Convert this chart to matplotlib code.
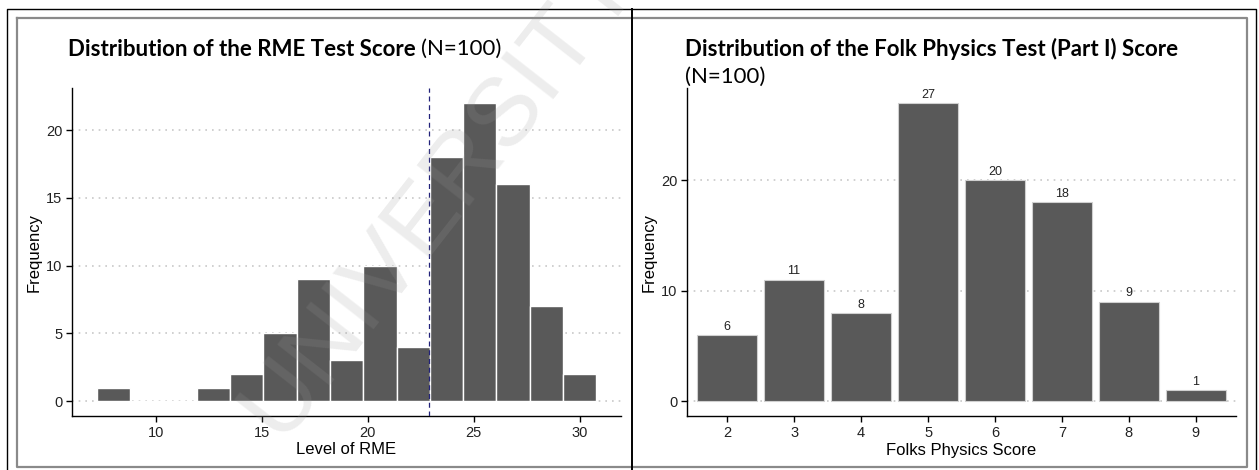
import matplotlib
matplotlib.use("Agg")
import matplotlib.pyplot as plt
from matplotlib.lines import Line2D
import numpy as np

# ---------------- data ----------------
rme_bin_edges = [7.21, 8.79, 10.36, 11.93, 13.50, 15.07, 16.64, 18.21,
                 19.79, 21.36, 22.93, 24.50, 26.07, 27.64, 29.21, 30.79]
rme_counts = [1, 0, 0, 1, 2, 5, 9, 3, 10, 4, 18, 22, 16, 7, 2]
rme_mean = 22.9
rme_xticks = [10, 15, 20, 25, 30]
rme_yticks = [0, 5, 10, 15, 20]

folk_scores = [2, 3, 4, 5, 6, 7, 8, 9]
folk_counts = [6, 11, 8, 27, 20, 18, 9, 1]
folk_yticks = [0, 10, 20]

W, H = 1259, 470
fig = plt.figure(figsize=(W / 100, H / 100), dpi=100)

BAR = "#595959"
GRID = "#c8c8c8"
TICKFONT = ["Liberation Sans", "DejaVu Sans"]
TITLEFONT = ["Lato", "DejaVu Sans"]


def fx(px):
    return px / W


def fy(py):
    return 1 - py / H


def style(ax):
    for s in ["top", "right"]:
        ax.spines[s].set_visible(False)
    for s in ["left", "bottom"]:
        ax.spines[s].set_linewidth(1.0)
        ax.spines[s].set_color("black")
    ax.tick_params(direction="out", length=4, width=1, colors="black",
                   labelsize=10.5, labelcolor="#222222", pad=3)
    for lab in ax.get_xticklabels() + ax.get_yticklabels():
        lab.set_family(TICKFONT)
    ax.set_axisbelow(True)
    ax.yaxis.grid(True, linestyle=(0, (1, 3)), color=GRID, linewidth=1.2)
    ax.xaxis.grid(False)


# ---------------- left panel ----------------
axL = fig.add_axes([fx(72), fy(416), fx(621 - 72), (416 - 88) / H])
edges = np.array(rme_bin_edges)
axL.bar(edges[:-1], rme_counts, width=np.diff(edges), align="edge",
        color=BAR, edgecolor="white", linewidth=1.0, zorder=2)
axL.axvline(rme_mean, color="#22227a", linestyle=(0, (4, 3)), linewidth=0.9, zorder=3)
axL.set_xlim(6.03, 31.96)
axL.set_ylim(-1.1, 23.1)
axL.set_xticks(rme_xticks)
axL.set_yticks(rme_yticks)
style(axL)
axL.set_xlabel("Level of RME", fontsize=12, family=TICKFONT, labelpad=2)
axL.set_ylabel("Frequency", fontsize=12, family=TICKFONT, labelpad=3)

# ---------------- right panel ----------------
axR = fig.add_axes([fx(687), fy(416), fx(1236 - 687), (416 - 88) / H])
axR.bar(folk_scores, folk_counts, width=0.9, color=BAR,
        edgecolor="#d0d0d0", linewidth=0.8, zorder=2)
for xs, c in zip(folk_scores, folk_counts):
    axR.text(xs, c + 0.2, str(c), ha="center", va="bottom", fontsize=9,
             family=TICKFONT, color="#222222")
axR.set_xlim(1.4, 9.6)
axR.set_ylim(-1.35, 28.35)
axR.set_xticks(folk_scores)
axR.set_yticks(folk_yticks)
style(axR)
axR.set_xlabel("Folks Physics Score", fontsize=12, family=TICKFONT, labelpad=2)
axR.set_ylabel("Frequency", fontsize=12, family=TICKFONT, labelpad=3)

# ---------------- titles ----------------
t1 = fig.text(fx(68), fy(49), "Distribution of the RME Test Score", fontsize=16,
              fontweight="bold", family=TITLEFONT, va="center", ha="left")
fig.canvas.draw()
bb = t1.get_window_extent()
fig.text(bb.x1 / W + fx(5), fy(49), "(N=100)", fontsize=16,
         family=TITLEFONT, va="center", ha="left")

fig.text(fx(685), fy(49), "Distribution of the Folk Physics Test (Part I) Score",
         fontsize=16, fontweight="bold", family=TITLEFONT, va="center", ha="left")
fig.text(fx(685), fy(77), "(N=100)", fontsize=16, family=TITLEFONT,
         va="center", ha="left")

# ---------------- frames ----------------
def fline(xs, ys, color, lw):
    fig.add_artist(Line2D([fx(x) for x in xs], [fy(y) for y in ys],
                          color=color, linewidth=lw, transform=fig.transFigure))

# gray inner frame
fline([17, 1247, 1247, 17, 17], [18, 18, 467, 467, 18], "#8a8a8a", 1.6)
# black outer frame and separator
fline([7, 7, 1256, 1256], [470, 9, 9, 470], "black", 1.0)
fline([632, 632], [9, 470], "black", 1.4)

# ---------------- watermark ----------------
fig.text(fx(440), fy(195), "UNIVERSITY", fontsize=70, rotation=52,
         color="#9a9a9a", alpha=0.18, ha="center", va="center",
         family=["Liberation Sans", "DejaVu Sans"], zorder=10)

fig.savefig("out.png", dpi=100)
